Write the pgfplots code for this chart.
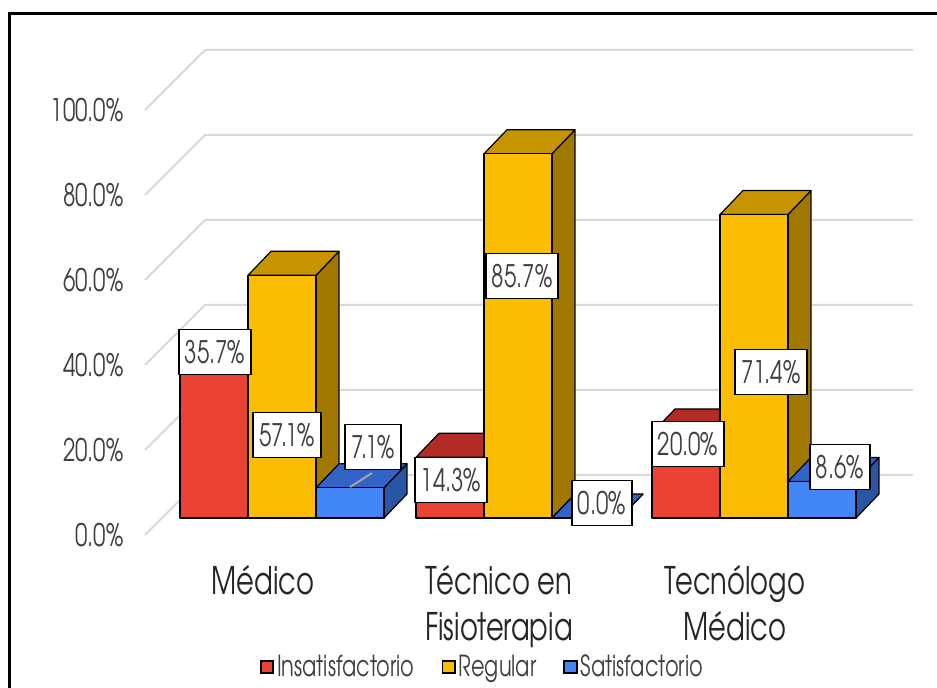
\documentclass[border=0pt]{standalone}
\usepackage{fontspec}
\setmainfont{texgyreadventor}[Extension=.otf, UprightFont=*-regular, BoldFont=*-bold, FakeStretch=0.72]
\usepackage{pgfplots}
\pgfplotsset{compat=1.18}
\usepackage{pgfplotstable}

\definecolor{redF}{HTML}{EA4335}
\definecolor{redT}{HTML}{B22B25}
\definecolor{redS}{HTML}{9E2620}
\definecolor{yelF}{HTML}{FBBC04}
\definecolor{yelT}{HTML}{C69400}
\definecolor{yelS}{HTML}{A07800}
\definecolor{bluF}{HTML}{4285F4}
\definecolor{bluT}{HTML}{3264C8}
\definecolor{bluS}{HTML}{2A55A5}
\definecolor{gridc}{HTML}{D9D9D9}
\definecolor{txt}{HTML}{404040}

\newcommand\mainfs{\fontsize{15.5}{23}\selectfont}
\newcommand\catfs{\fontsize{19}{23}\selectfont}
\newcommand\legfs{\fontsize{14.5}{16}\selectfont}

% values (percent)
\pgfplotstableread{
g ins reg sat
0 35.7 57.1 7.1
1 14.3 85.7 0.0
2 20.0 71.4 8.6
}\data

% data-label positions (axis units) and values
\pgfplotstableread{
x y v
0.2966 43.06 35.7
0.6017 23.53 57.1
0.9661 20.71 7.1
1.2966 12.94 14.3
1.5975 60.94 85.7
1.9364 7.53 0.0
2.3008 21.41 20.0
2.6525 38.35 71.4
2.9449 16.00 8.6
}\labels

\def\bx{0.1483}
\def\bw{0.2881}
\def\bz{4.0}
\def\dx{0.0975}
\def\dy{5.65}

\newcommand\drawbar[6]{%
  \pgfplotstablegetelem{#1}{#2}\of\data
  \pgfmathsetmacro\v{\pgfplotsretval}%
  \pgfmathsetmacro\xl{#1+\bx+#3*\bw}%
  \pgfmathsetmacro\xr{\xl+\bw}%
  \pgfmathsetmacro\yb{\bz}%
  \pgfmathsetmacro\yt{\bz+\v}%
  \pgfmathsetmacro\xlb{\xl+\dx}%
  \pgfmathsetmacro\xrb{\xr+\dx}%
  \pgfmathsetmacro\ybb{\yb+\dy}%
  \pgfmathsetmacro\ytb{\yt+\dy}%
  \edef\temp{%
    \noexpand\addplot[forget plot, fill=#6, draw=black, line width=0.6pt, line join=round] coordinates {(\xr,\yb) (\xrb,\ybb) (\xrb,\ytb) (\xr,\yt)} -- cycle;
    \noexpand\addplot[forget plot, fill=#5, draw=black, line width=0.6pt, line join=round] coordinates {(\xl,\yt) (\xr,\yt) (\xrb,\ytb) (\xlb,\ytb)} -- cycle;
    \noexpand\addplot[forget plot, fill=#4, draw=black, line width=0.6pt, line join=round] coordinates {(\xl,\yb) (\xr,\yb) (\xr,\yt) (\xl,\yt)} -- cycle;
  }\temp
}

\begin{document}
\begin{tikzpicture}
\path[use as bounding box] (-72.5pt,-76pt) rectangle (396pt,267.5pt);
\begin{axis}[
  at={(0pt,0pt)}, anchor=south west,
  x=118pt, y=2.125pt,
  xmin=0, xmax=3.2542, ymin=0, ymax=114.12,
  clip=false,
  /pgf/number format/assume math mode=true,
  axis line style={draw=none},
  major tick length=0pt,
  ytick={0,20,40,60,80,100},
  yticklabels={0.0\%,20.0\%,40.0\%,60.0\%,80.0\%,100.0\%},
  yticklabel style={anchor=east, inner sep=0pt, xshift=-10.5pt, font=\mainfs, text=txt},
  xtick={0.5,1.5,2.5},
  xticklabels={M\'edico, T\'ecnico en\\Fisioterapia, Tecn\'ologo\\M\'edico},
  xticklabel style={align=center, anchor=north, inner sep=0pt, yshift=-15pt, font=\catfs, text=black!85},
  legend style={at={(0.440,-0.272)}, anchor=center, draw=none, fill=none,
    legend columns=3, font=\legfs, text=txt,
    /tikz/every even column/.append style={column sep=12pt},
    nodes={inner xsep=1.5pt}},
  legend image code/.code={\draw[#1, draw=black, line width=0.9pt] (0pt,-3.1pt) rectangle (6.2pt,3.1pt);},
]
% wall gridlines
\addplot[forget plot, gridc, line width=1pt] coordinates {(0,0) (0.2542,14.12) (3.2542,14.12)};
\addplot[forget plot, gridc, line width=1pt] coordinates {(0,20) (0.2542,34.12) (3.2542,34.12)};
\addplot[forget plot, gridc, line width=1pt] coordinates {(0,40) (0.2542,54.12) (3.2542,54.12)};
\addplot[forget plot, gridc, line width=1pt] coordinates {(0,60) (0.2542,74.12) (3.2542,74.12)};
\addplot[forget plot, gridc, line width=1pt] coordinates {(0,80) (0.2542,94.12) (3.2542,94.12)};
\addplot[forget plot, gridc, line width=1pt] coordinates {(0,100) (0.2542,114.12) (3.2542,114.12)};
% bars
\drawbar{0}{ins}{0}{redF}{redT}{redS}
\drawbar{0}{reg}{1}{yelF}{yelT}{yelS}
\drawbar{0}{sat}{2}{bluF}{bluT}{bluS}
\drawbar{1}{ins}{0}{redF}{redT}{redS}
\drawbar{1}{reg}{1}{yelF}{yelT}{yelS}
\drawbar{1}{sat}{2}{bluF}{bluT}{bluS}
\drawbar{2}{ins}{0}{redF}{redT}{redS}
\drawbar{2}{reg}{1}{yelF}{yelT}{yelS}
\drawbar{2}{sat}{2}{bluF}{bluT}{bluS}
% leader line
\addplot[forget plot, black!35, line width=1pt] coordinates {(0.8686,11.29) (0.9619,14.59)};
% data labels
\addplot[forget plot, only marks, mark=*, mark size=0pt, mark options={draw=none, fill=none},
  point meta=explicit,
  nodes near coords={\pgfmathprintnumber[fixed,fixed zerofill,precision=1]{\pgfplotspointmeta}\%},
  nodes near coords align={anchor=center},
  every node near coord/.append style={fill=white, draw=black, line width=0.9pt, inner xsep=3pt, inner ysep=5.5pt, text height=11.5pt, text depth=0pt, font=\mainfs, text=txt}
] table[x=x, y=y, meta=v] {\labels};
\addlegendimage{fill=redF}
\addlegendentry{Insatisfactorio}
\addlegendimage{fill=yelF}
\addlegendentry{Regular}
\addlegendimage{fill=bluF}
\addlegendentry{Satisfactorio}
\end{axis}
\draw[line width=1.5pt] (-67.75pt,-100pt) |- (420pt,260.75pt);
\end{tikzpicture}
\end{document}
